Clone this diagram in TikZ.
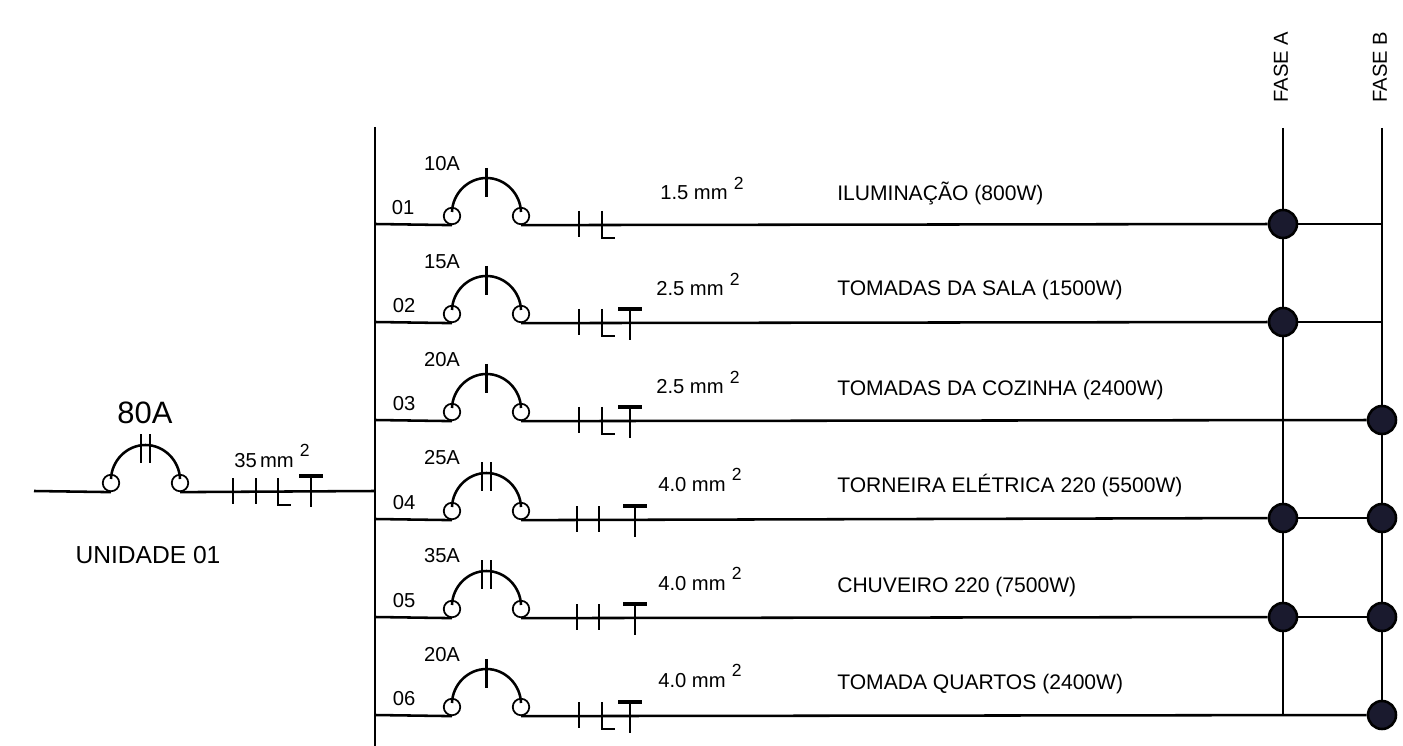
\documentclass[tikz,border=0pt]{standalone}
\usepackage{fontspec}
\setmainfont{Liberation Sans}
\definecolor{nodo}{HTML}{1A1A2E}
\newcommand{\qd}{\hspace{3.5pt}\raisebox{6pt}{\fontsize{10pt}{11pt}\selectfont 2}}
\tikzset{
  disjs/.pic={
    \node (-l) at (-34.5,-8) [term] {};
    \node (-r) at (34.5,-8) [term] {};
    \draw (-34.5,-12) .. controls (-34,-30) and (-19,-46) .. (0,-46) .. controls (19,-46) and (34,-30) .. (34.5,-12);
    \draw (0,-56) -- (0,-27);
  },
  disjd/.pic={
    \node (-l) at (-34.5,-8) [term] {};
    \node (-r) at (34.5,-8) [term] {};
    \draw (-34.5,-12) .. controls (-34,-30) and (-19,-46) .. (0,-46) .. controls (19,-46) and (34,-30) .. (34.5,-12);
    \draw (-4.5,-57) -- (-4.5,-28);
    \draw (4.5,-57) -- (4.5,-28);
  },
  fiof/.pic={\draw (0,-13) -- (0,13);},
  fion/.pic={\draw (0,-13) -- (0,14) -- (13,14);},
  fiot/.pic={\draw[line width=2pt] (-12,-13) -- (12,-13); \draw (0,-13) -- (0,18);}
}
\begin{document}
\begin{tikzpicture}[x=0.02cm,y=-0.02cm,line width=1.45pt]
\tikzstyle{every node}=[font=\fontsize{11.5pt}{13pt}\selectfont, inner sep=0pt]
\tikzstyle{term}=[draw, circle, line width=1pt, minimum size=0.33cm]
\tikzstyle{dot}=[draw, circle, fill=nodo, minimum size=0.56cm]
\tikzstyle{rot}=[anchor=base west]
\tikzstyle{cir}=[anchor=base west, font=\fontsize{12pt}{14pt}\selectfont]
\useasboundingbox (0,0) rectangle (1403,746);
% barramento e fases
\coordinate (bustop) at (375,127);
\coordinate (busbot) at (375,746);
\coordinate (bus0) at (375,491);
\coordinate (b1) at (375,224);
\coordinate (b2) at (375,322);
\coordinate (b3) at (375,420);
\coordinate (b4) at (375,519);
\coordinate (b5) at (375,617);
\coordinate (b6) at (375,715);
\coordinate (topa) at (1283,128);
\coordinate (topb) at (1382,128);
\coordinate (c1) at (1382,224);
\coordinate (c2) at (1382,322);
\coordinate (enda) at (1283,715);
\node (fasea) at (1281,67) [rotate=90] {FASE A};
\node (faseb) at (1380,67) [rotate=90] {FASE B};
\node (a1) at (1283,224) [dot] {};
\node (a2) at (1283,322) [dot] {};
\node (a4) at (1283,518) [dot] {};
\node (a5) at (1283,617) [dot] {};
\node (q3) at (1382,420) [dot] {};
\node (q4) at (1382,518) [dot] {};
\node (q5) at (1382,617) [dot] {};
\node (q6) at (1382,715) [dot] {};
\draw (bustop) -- (busbot);
\draw (topa) -- (a1) -- (a2) -- (a4) -- (a5) -- (enda);
\draw (topb) -- (c1) -- (c2) -- (q3) -- (q4) -- (q5) -- (q6);
% unidade
\coordinate (m0) at (34,491);
\pic (d0) at (145.5,491) {disjd};
\draw (m0) -- (d0-l.south);
\draw (d0-r.south) -- (bus0);
\pic at (233,491) {fiof};
\pic at (256,491) {fiof};
\pic at (278,491) {fion};
\pic at (311,489) {fiot};
\node (i0) at (145,413) [font=\fontsize{17.6pt}{20pt}\selectfont] {80A};
\node (w0) at (233,467) [rot] {35\,mm\qd};
\node (u0) at (148,555) [font=\fontsize{14pt}{16pt}\selectfont] {UNIDADE 01};
% circuito 01
\pic (d1) at (486.5,224) {disjs};
\draw (b1) -- (d1-l.south);
\draw (d1-r.south) -- (a1);
\draw (a1) -- (c1);
\pic at (579,224) {fiof};
\pic at (602,224) {fion};
\node (n1) at (403,208) {01};
\node (i1) at (442,164) {10A};
\node (w1) at (659,200) [rot] {1.5 mm\qd};
\node (t1) at (836,201) [cir] {ILUMINAÇÃO (800W)};
% circuito 02
\pic (d2) at (486.5,322) {disjs};
\draw (b2) -- (d2-l.south);
\draw (d2-r.south) -- (a2);
\draw (a2) -- (c2);
\pic at (579,322) {fiof};
\pic at (602,322) {fion};
\pic at (630,322) {fiot};
\node (n2) at (404,306) {02};
\node (i2) at (442,262) {15A};
\node (w2) at (655,296) [rot] {2.5 mm\qd};
\node (t2) at (836,296) [cir] {TOMADAS DA SALA (1500W)};
% circuito 03
\pic (d3) at (486.5,420) {disjs};
\draw (b3) -- (d3-l.south);
\draw (d3-r.south) -- (q3);
\pic at (579,420) {fiof};
\pic at (602,420) {fion};
\pic at (630,420) {fiot};
\node (n3) at (404,404) {03};
\node (i3) at (442,360) {20A};
\node (w3) at (655,394) [rot] {2.5 mm\qd};
\node (t3) at (836,396) [cir] {TOMADAS DA COZINHA (2400W)};
% circuito 04
\pic (d4) at (486.5,519) {disjd};
\draw (b4) -- (d4-l.south);
\draw (d4-r.south) -- (a4);
\draw (a4) -- (q4);
\pic at (577,519) {fiof};
\pic at (599,519) {fiof};
\pic at (635,519) {fiot};
\node (n4) at (404,503) {04};
\node (i4) at (442,458) {25A};
\node (w4) at (657,491) [rot] {4.0 mm\qd};
\node (t4) at (836,492) [cir] {TORNEIRA ELÉTRICA 220 (5500W)};
% circuito 05
\pic (d5) at (486.5,617) {disjd};
\draw (b5) -- (d5-l.south);
\draw (d5-r.south) -- (a5);
\draw (a5) -- (q5);
\pic at (577,617) {fiof};
\pic at (599,617) {fiof};
\pic at (635,617) {fiot};
\node (n5) at (404,601) {05};
\node (i5) at (442,556) {35A};
\node (w5) at (657,590) [rot] {4.0 mm\qd};
\node (t5) at (836,592) [cir] {CHUVEIRO 220 (7500W)};
% circuito 06
\pic (d6) at (486.5,715) {disjs};
\draw (b6) -- (d6-l.south);
\draw (d6-r.south) -- (q6);
\pic at (579,715) {fiof};
\pic at (602,715) {fion};
\pic at (630,715) {fiot};
\node (n6) at (404,699) {06};
\node (i6) at (442,655) {20A};
\node (w6) at (657,687) [rot] {4.0 mm\qd};
\node (t6) at (836,689) [cir] {TOMADA QUARTOS (2400W)};
\end{tikzpicture}
\end{document}
